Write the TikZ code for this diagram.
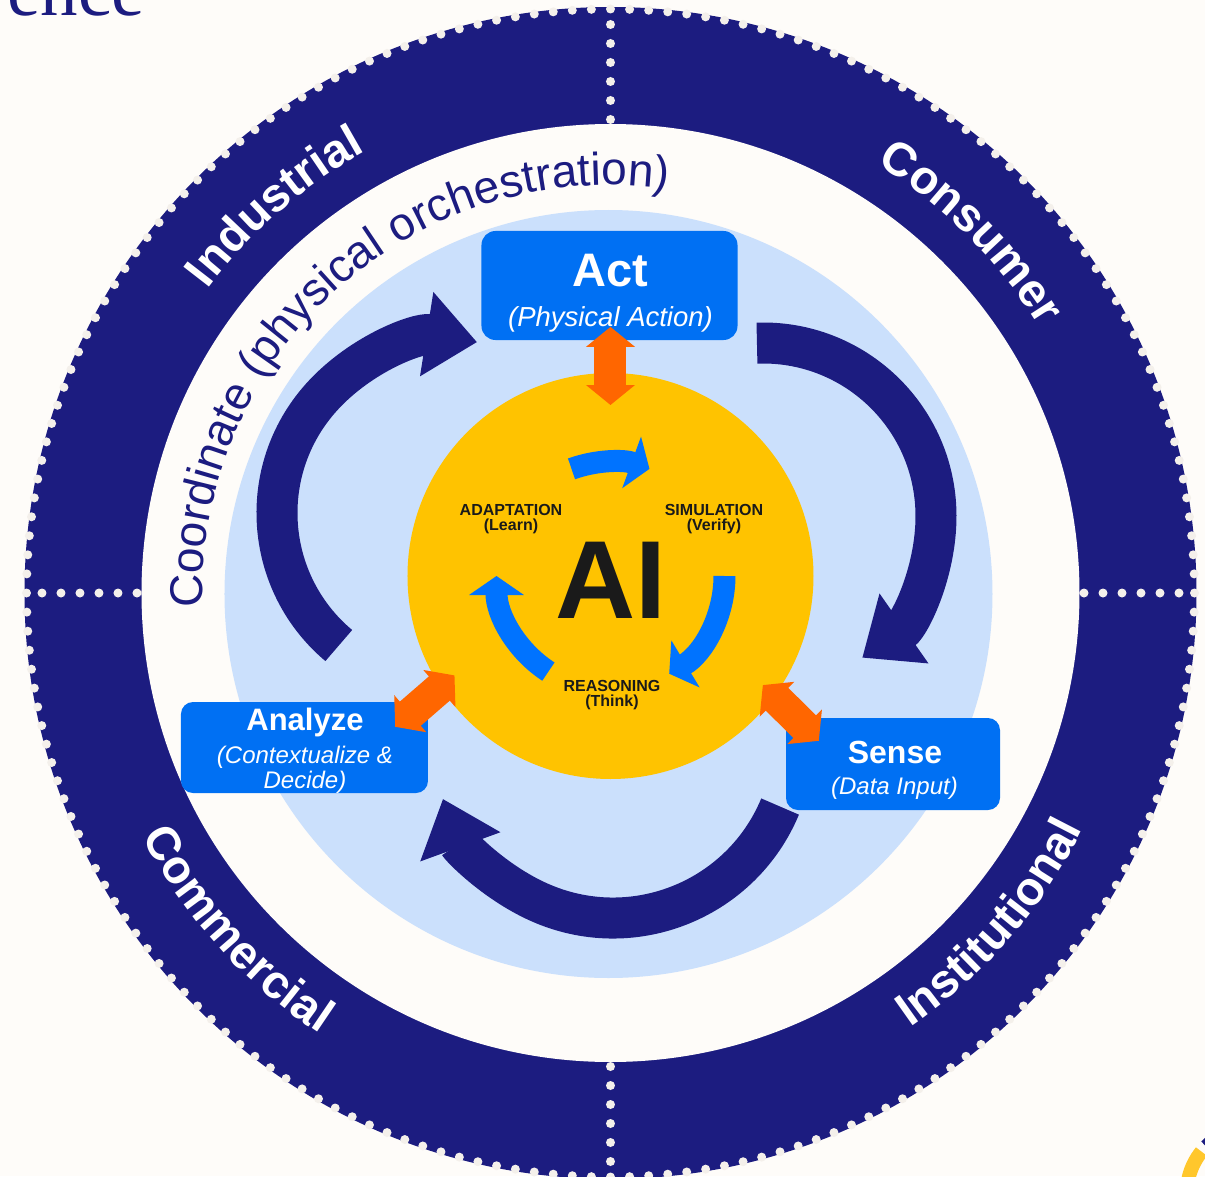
\documentclass[tikz,border=0pt]{standalone}
\usepackage{fontspec}
\setmainfont{Liberation Sans}
\newfontfamily\headserif{Liberation Serif}
\usetikzlibrary{arrows.meta, positioning, calc, decorations.text}

\definecolor{navy}{HTML}{1C1C80}
\definecolor{paper}{HTML}{FEFCF9}
\definecolor{dotcol}{HTML}{F4F0EB}
\definecolor{skyblue}{HTML}{CBE0FC}
\definecolor{aiyellow}{HTML}{FFC300}
\definecolor{boxblue}{HTML}{0070F3}
\definecolor{arrowblue}{HTML}{0073FF}
\definecolor{hotorange}{HTML}{FF6600}
\definecolor{inkblack}{HTML}{1A1A1A}
\definecolor{markyellow}{HTML}{FFC72C}

\begin{document}
\begin{tikzpicture}[x=1pt, y=1pt,
  cyclebox/.style={rectangle, rounded corners=14pt, fill=boxblue, inner sep=0pt},
  boxtitle/.style={anchor=base, text=white, font=\bfseries\fontsize{#1}{#1}\selectfont},
  boxnote/.style={anchor=base, text=white, font=\itshape\fontsize{#1}{#1}\selectfont},
  phase/.style={align=center, text=inkblack, font=\bfseries\fontsize{16}{15.5}\selectfont},
  spin/.style={arrowblue, line width=22pt, -{Triangle[width=54pt, length=19pt]}},
  cyclearrow/.style={navy, line width=41pt, -{Triangle[width=82pt, length=51pt]}},
  linkarrow/.style={hotorange, line width=32pt, {Triangle[width=48pt, length=20pt]}-{Triangle[width=48pt, length=20pt]}},
  ringtext/.style={decorate, decoration={text along path, text align=center, text color=white,
    text={|\bfseries\fontsize{47}{47}\selectfont|#1}}},
  dotmark/.style={fill=dotcol}]

% Page
\useasboundingbox (-610.5,-583) rectangle (594.5,593);
\clip (-610.5,-583) rectangle (594.5,593);
\fill[paper] (-610.5,-583) rectangle (594.5,593);
\node[anchor=base east, text=navy, font=\headserif\fontsize{75}{75}\selectfont] (headword) at (-462,577) {ence};

% Outer ring
\fill[navy] (0,0) circle[radius=586];
\foreach \k in {0,...,191}
  \fill[dotmark] ({\k*1.875}:584) circle[radius=4.5];
\fill[paper] (0,0) circle[radius=469];
\foreach \a in {0,90,180,270}
  \foreach \k in {0,...,5}
    \fill[dotmark] (\a:{473.5+19*\k}) circle[radius=4.5];

% Sector labels
\path[ringtext={Industrial}] (171:505) arc[start angle=171, end angle=91, radius=505];
\path[ringtext={Consumer}] (85:505) arc[start angle=85, end angle=5, radius=505];
\path[ringtext={Institutional}] (-81:528) arc[start angle=-81, end angle=-1, radius=528];
\path[ringtext={Commercial}] (-178:528) arc[start angle=-178, end angle=-98, radius=528];

% Coordinate text
\path[decorate, decoration={text along path, text align=center, text color=navy,
  text={|\fontsize{46}{46}\selectfont|Coordinate (physical orchestration)}}]
  (200:408) arc[start angle=200, end angle=64, radius=408];

% Inner disc
\fill[skyblue] (-2,-1) circle[radius=384];

% Outer cycle
\coordinate (lc) at (-160.5,80);
\coordinate (rc) at (152.5,77);
\coordinate (bc) at (2.5,-144);
\draw[cyclearrow] ([shift={(230:173)}]lc) arc[start angle=230, end angle=81, radius=173];
\draw[cyclearrow] ([shift={(92:173)}]rc) arc[start angle=92, end angle=-55, radius=173];
\draw[cyclearrow] ([shift={(-22.6:181)}]bc) arc[start angle=-22.6, end angle=-160, radius=181];

% AI core
\node[circle, fill=aiyellow, minimum size=406pt, inner sep=0pt] (ai) at (0,17) {};
\node[text=inkblack, font=\bfseries\fontsize{111}{111}\selectfont, inner sep=0pt] (ailabel) at (0.5,13) {AI};
\node[phase] (adapt) at (-99.5,74) {ADAPTATION\\(Learn)};
\node[phase] (simul) at (103.5,74) {SIMULATION\\(Verify)};
\node[phase] (reason) at (1.5,-102) {REASONING\\(Think)};

\draw[spin] ([shift={(110:114)}]ai.center) arc[start angle=110, end angle=70, radius=114];
\draw[spin] ([shift={(0:114)}]ai.center) arc[start angle=0, end angle=-59, radius=114];
\draw[spin] ([shift={(237:114)}]ai.center) arc[start angle=237, end angle=180, radius=114];

% Stage boxes
\node[cyclebox, minimum width=256pt, minimum height=109pt] (act) at (-1,307.5) {};
\node[boxtitle=47] (acttitle) at (0,306.2) {Act};
\node[boxnote=27.5] (actnote) at (0,266.8) {(Physical Action)};

\node[cyclebox, rounded corners=12pt, minimum width=247pt, minimum height=91pt] (analyze) at (-306,-154.5) {};
\node[boxtitle=31] (analyzetitle) at (-305.5,-137.5) {Analyze};
\node[boxnote=24] (analyzenote) at (-305.5,-170.6) {(Contextualize \&};
\node[boxnote=24] (analyzenote2) at (-305.5,-195.6) {Decide)};

\node[cyclebox, rounded corners=12pt, minimum width=214pt, minimum height=92pt] (sense) at (282.5,-171) {};
\node[boxtitle=32] (sensetitle) at (284.5,-170.2) {Sense};
\node[boxnote=24] (sensenote) at (284,-201.6) {(Data Input)};

% Links to the core
\draw[linkarrow] ([shift={(1,13.3)}]act.south) -- ([shift={(90:171)}]ai.center);
\draw[linkarrow] ([shift={(-33,-25)}]analyze.north east) -- ([shift={(212.5:185)}]ai.center);
\draw[linkarrow] ([shift={(324.4:187.4)}]ai.center) -- ([shift={(33,-23)}]sense.north west);

% Corner mark
\coordinate (mark) at (641.5,-599.5);
\draw[markyellow, line width=14pt] ([shift={(141:65)}]mark) arc[start angle=141, end angle=260, radius=65];
\draw[navy, line width=14pt] ([shift={(60:65)}]mark) arc[start angle=60, end angle=135, radius=65];
\fill[navy] ([shift={(-56,-3)}]mark) rectangle ++(20,-12);
\end{tikzpicture}
\end{document}
